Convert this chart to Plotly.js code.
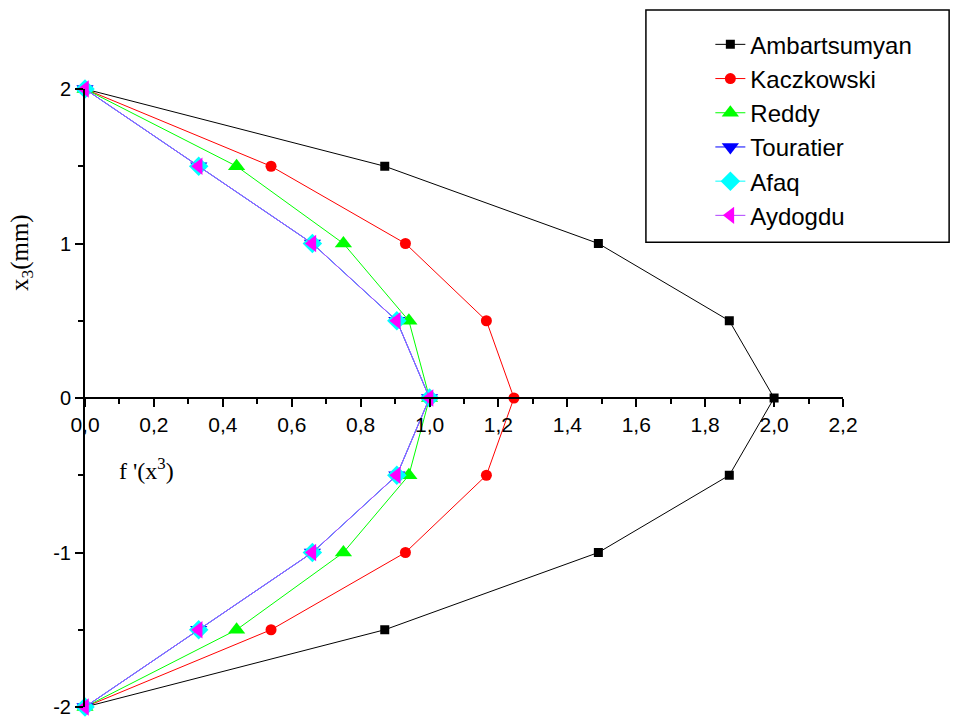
<!DOCTYPE html>
<html><head><meta charset="utf-8">
<script src="https://cdn.plot.ly/plotly-3.0.1.min.js"></script>
<style>body{margin:0;background:#fff}#c{width:956px;height:718px}</style>
</head><body><div id="c"></div>
<script>
const zVals = [-2, -1.5, -1, -0.5, 0, 0.5, 1, 1.5, 2];
const ambartsumyan = [0, 0.87, 1.49, 1.87, 2.0, 1.87, 1.49, 0.87, 0];
const kaczkowski  = [0, 0.54, 0.93, 1.165, 1.245, 1.165, 0.93, 0.54, 0];
const reddy       = [0, 0.44, 0.75, 0.94, 1.0, 0.94, 0.75, 0.44, 0];
const touratier   = [0, 0.33, 0.66, 0.905, 1.0, 0.905, 0.66, 0.33, 0];
const afaq        = [0, 0.33, 0.66, 0.905, 1.0, 0.905, 0.66, 0.33, 0];
const aydogdu     = [0, 0.33, 0.66, 0.905, 1.0, 0.905, 0.66, 0.33, 0];
const seriesNames = ["Ambartsumyan", "Kaczkowski", "Reddy", "Touratier", "Afaq", "Aydogdu"];
const yTickVals = [-2, -1, 0, 1, 2];
const yTickText = ["-2", "-1", "0", "1", "2"];

const styles = [
  {color: "#000000", symbol: "square", size: 9},
  {color: "#ff0000", symbol: "circle", size: 11},
  {color: "#00ff00", symbol: "triangle-up", size: 15},
  {color: "#0000ff", symbol: "triangle-down", size: 15},
  {color: "#00ffff", symbol: "diamond", size: 15},
  {color: "#ff00ff", symbol: "triangle-left", size: 15}
];
const lineColors = ["#000000", "#ff0000", "#00ff00", "#0000ff", "#00ffff", "#b040ff"];
const data = [ambartsumyan, kaczkowski, reddy, touratier, afaq, aydogdu].map((xs, i) => ({
  type: "scatter", mode: "lines+markers", x: xs, y: zVals, name: seriesNames[i],
  cliponaxis: false,
  line: {color: lineColors[i], width: 1},
  marker: {color: styles[i].color, symbol: styles[i].symbol, size: styles[i].size}
}));

const layout = {
  width: 956, height: 718,
  margin: {l: 85, r: 113, t: 89, b: 11},
  paper_bgcolor: "#fff", plot_bgcolor: "#fff",
  separators: ", ",
  font: {family: "Liberation Sans, Arial, sans-serif", size: 21, color: "#000"},
  showlegend: true,
  legend: {x: 0.825, y: 1.108, xanchor: "left", yanchor: "top",
           borderwidth: 0, bgcolor: "rgba(0,0,0,0)",
           font: {size: 24, family: "Liberation Sans, Arial, sans-serif"},
           tracegroupgap: 0},
  shapes: [
    {type: "rect", xref: "paper", yref: "paper", x0: 0.740, x1: 1.140, y0: 0.752, y1: 1.128,
     line: {color: "#000", width: 1.5}, fillcolor: "rgba(0,0,0,0)", layer: "below"}
  ],
  xaxis: {range: [0, 2.2], anchor: "free", position: 0.5, side: "bottom",
          showgrid: false, zeroline: false, showline: true, linecolor: "#000", linewidth: 2,
          ticks: "outside", ticklen: 8, tickwidth: 2, tickcolor: "#000",
          dtick: 0.2, tick0: 0, tickformat: ".1f",
          minor: {dtick: 0.1, ticks: "outside", ticklen: 5, tickwidth: 2, tickcolor: "#000"},
          tickfont: {size: 21}},
  yaxis: {range: [-2, 2], showgrid: false, zeroline: false, showline: true,
          linecolor: "#000", linewidth: 2,
          ticks: "outside", ticklen: 8, tickwidth: 2, tickcolor: "#000",
          tickmode: "array", tickvals: yTickVals, ticktext: yTickText,
          minor: {dtick: 0.5, tick0: 0, ticks: "outside", ticklen: 5, tickwidth: 2, tickcolor: "#000"},
          tickfont: {size: 20}},
  annotations: [
    {text: "x<sub>3</sub>(mm)", xref: "paper", yref: "paper", x: -0.084, y: 0.735,
     xanchor: "center", yanchor: "middle",
     showarrow: false, textangle: -90, font: {size: 25, family: "Liberation Serif, Times New Roman, serif"}},
    {text: "f '(x<sup>3</sup>)", xref: "paper", yref: "paper", x: 0.042, y: 0.385,
     xanchor: "left", showarrow: false, font: {size: 24, family: "Liberation Serif, Times New Roman, serif"}}
  ]
};
Plotly.newPlot("c", data, layout, {displayModeBar: false});
</script></body></html>
